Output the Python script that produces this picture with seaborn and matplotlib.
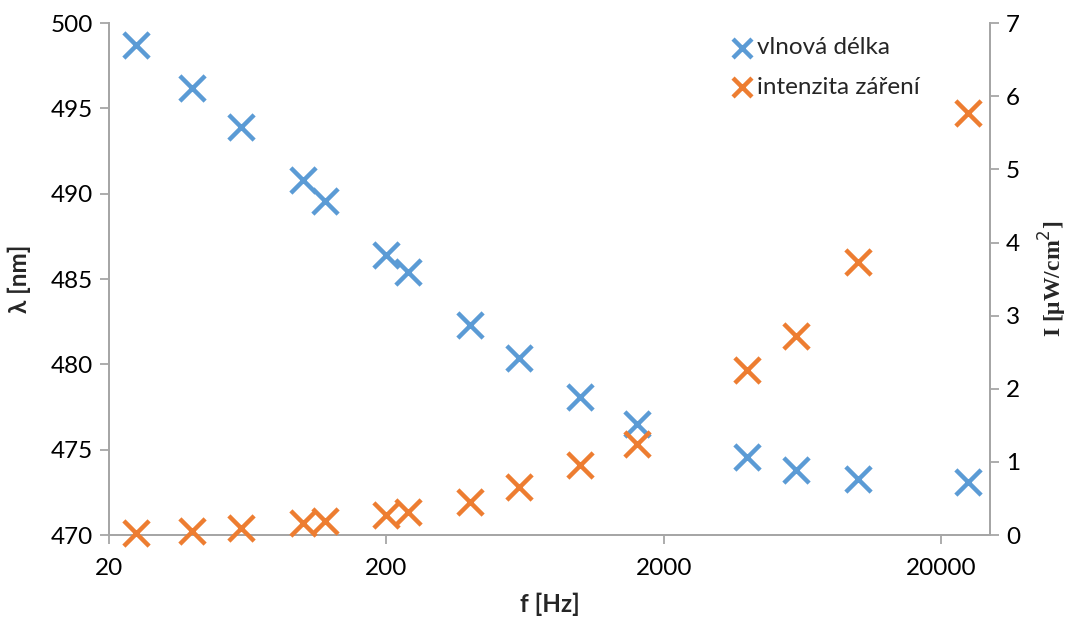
import matplotlib
matplotlib.use("Agg")
import matplotlib.pyplot as plt
import matplotlib.ticker as mticker
import seaborn as sns
import pandas as pd

# Measured frequency sweep
freq_hz = [25, 40, 60, 100, 120, 200, 240, 400, 600, 1000, 1600, 4000, 6000, 10000, 25000]
wavelength_nm = [498.7, 496.2, 493.9, 490.8, 489.6, 486.4, 485.4, 482.3, 480.4, 478.1,
                 476.5, 474.6, 473.8, 473.3, 473.1]
intensity = [0.03, 0.05, 0.10, 0.16, 0.19, 0.27, 0.32, 0.46, 0.66, 0.96,
             1.25, 2.26, 2.72, 3.73, 5.77]

x_ticks = [20, 200, 2000, 20000]
left_ticks = [470, 475, 480, 485, 490, 495, 500]
right_ticks = [0, 1, 2, 3, 4, 5, 6, 7]

df = pd.DataFrame({"f": freq_hz, "lam": wavelength_nm, "I": intensity})

sns.set_theme(style="white")
plt.rcParams["font.family"] = ["Lato", "DejaVu Sans"]

BLUE = "#5B9BD5"
ORANGE = "#ED7D31"
GRID = "#A6A6A6"
FS = 17.5

fig = plt.figure(figsize=(10.68, 6.23), dpi=100)
ax = fig.add_axes([0.102, 0.141, 0.825, 0.822])
ax2 = ax.twinx()

marker_kw = dict(marker="x", s=330, linewidth=3.2, clip_on=False, zorder=5)
sns.scatterplot(data=df, x="f", y="lam", ax=ax, color=BLUE, label="vlnová délka",
                legend=False, **marker_kw)
sns.scatterplot(data=df, x="f", y="I", ax=ax2, color=ORANGE, label="intenzita záření",
                legend=False, **marker_kw)

ax.set_xscale("log")
ax.set_xlim(20, 30000)
ax.set_ylim(470, 500)
ax2.set_ylim(0, 7)
ax.xaxis.set_major_locator(mticker.FixedLocator(x_ticks))
ax.xaxis.set_major_formatter(mticker.FixedFormatter([str(v) for v in x_ticks]))
ax.xaxis.set_minor_locator(mticker.NullLocator())
ax.set_yticks(left_ticks)
ax2.set_yticks(right_ticks)

for a in (ax, ax2):
    a.spines["top"].set_visible(False)
    for side in ("left", "right", "bottom"):
        a.spines[side].set_color(GRID)
        a.spines[side].set_linewidth(1.3)
    a.tick_params(axis="both", which="major", direction="out", length=6.5, width=1.3,
                  color=GRID, labelsize=FS, labelcolor="black", pad=5)
    a.grid(False)
ax.tick_params(axis="y", left=True, right=False)
ax.tick_params(axis="x", bottom=True, pad=10)
ax2.tick_params(axis="y", right=True, left=False)

ax.set_xlabel("f [Hz]", fontsize=FS, fontweight="bold", labelpad=10)
ax.set_ylabel("λ [nm]", fontsize=FS, fontweight="bold", labelpad=14)
ax2.set_ylabel("I [μW/cm$^2$]", fontsize=17, fontweight="bold", labelpad=12,
               family=["Liberation Serif", "DejaVu Serif"])

h1, l1 = ax.get_legend_handles_labels()
h2, l2 = ax2.get_legend_handles_labels()
leg = ax2.legend(h1 + h2, l1 + l2, loc="upper right", bbox_to_anchor=(0.945, 1.015),
                 frameon=False, fontsize=FS, handletextpad=0.05, markerscale=0.75,
                 labelspacing=0.75, handlelength=1.1)

fig.savefig("out.png", dpi=100)
